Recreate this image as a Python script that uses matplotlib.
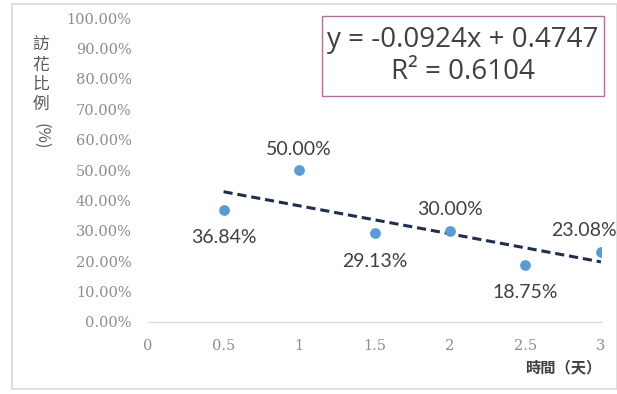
import numpy as np
import matplotlib.pyplot as plt
from matplotlib.patches import Rectangle

# data
days = [0.5, 1.0, 1.5, 2.0, 2.5, 3.0]
ratio = [0.3684, 0.5000, 0.2913, 0.3000, 0.1875, 0.2308]
point_labels = ['36.84%', '50.00%', '29.13%', '30.00%', '18.75%', '23.08%']
label_above = [False, True, False, True, False, True]
label_dx = [0, 0, 0, 0, 0, -12]
x_ticks = [0, 0.5, 1, 1.5, 2, 2.5, 3]
x_ticklabels = ['0', '0.5', '1', '1.5', '2', '2.5', '3']
y_ticks = [0, 0.1, 0.2, 0.3, 0.4, 0.5, 0.6, 0.7, 0.8, 0.9, 1.0]

plt.rcParams['font.family'] = ['Noto Sans CJK TC', 'DejaVu Sans']

fig = plt.figure(figsize=(6.17, 3.94), dpi=100)
ax = fig.add_axes([0.240, 0.183, 0.734, 0.771])

# outer frame of the chart
fig.patches.append(Rectangle((0.02, 0.012), 0.98, 0.978, transform=fig.transFigure,
                             fill=False, edgecolor='#d9d9d9', linewidth=1.2))

ax.scatter(days, ratio, s=45, color='#5b9bd5', zorder=3)

coef = np.polyfit(days, ratio, 1)
xs = np.array([days[0], days[-1]])
ax.plot(xs, np.polyval(coef, xs), linestyle=(0, (3, 1.6)), color='#1f2d4f', linewidth=2.2, zorder=2)

for x, y, t, up, dx in zip(days, ratio, point_labels, label_above, label_dx):
    ax.annotate(t, (x, y), xytext=(dx, 9 if up else -14), textcoords='offset points',
                ha='center', va='bottom' if up else 'top', fontsize=14,
                color='#404040', family=['Lato'], annotation_clip=False)

ax.set_xlim(0, 3)
ax.set_ylim(0, 1)
ax.set_xticks(x_ticks)
ax.set_xticklabels(x_ticklabels)
ax.set_yticks(y_ticks)
ax.set_yticklabels(['{:.2f}%'.format(v * 100) for v in y_ticks])
ax.tick_params(length=0, labelsize=10.5, labelcolor='#8c8c8c', pad=12)
for lb in ax.get_xticklabels() + ax.get_yticklabels():
    lb.set_family(['DejaVu Serif'])
for s in ['top', 'right', 'left']:
    ax.spines[s].set_visible(False)
ax.spines['bottom'].set_color('#d9d9d9')

# equation box
fig.patches.append(Rectangle((0.522, 0.756), 0.457, 0.203, transform=fig.transFigure,
                             facecolor='white', edgecolor='#b0709a', linewidth=1, zorder=4))
fig.text(0.750, 0.858, 'y = -0.0924x + 0.4747\nR² = 0.6104', ha='center', va='center',
         fontsize=20, color='#404040', family=['Open Sans'], linespacing=1.2, zorder=5)

# axis titles
for i, ch in enumerate('訪花比例'):
    fig.text(0.066, 0.885 - i * 0.05, ch, ha='center', va='center', fontsize=12, color='#595959')
fig.text(0.066, 0.655, '(%)', ha='center', va='center', rotation=270, fontsize=12, color='#595959')
fig.text(0.975, 0.068, '時間（天）', ha='right', va='center', fontsize=11,
         color='#404040', fontweight='bold')

fig.savefig('out.png', dpi=100)
